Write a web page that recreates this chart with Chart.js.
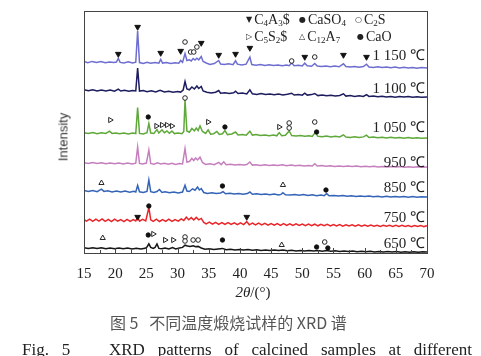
<!DOCTYPE html>
<html><head><meta charset="utf-8">
<script src="https://cdn.jsdelivr.net/npm/chart.js@4"></script>
<style>
html,body{margin:0;padding:0;background:#fff;}
#wrap{position:relative;width:481px;height:356px;overflow:hidden;font-family:'Liberation Serif',serif;color:#222;}
canvas{position:absolute;left:0;top:0;}
.t{position:absolute;white-space:nowrap;line-height:1;}
.temp{right:56px;font-size:15px;transform:translateY(-50%);}
.leg{font-size:14px;transform:translateY(-50%);}
.leg sub{font-size:9px;vertical-align:-2px;}
.sym{font-family:'DejaVu Sans',sans-serif;font-size:8px;vertical-align:2px;margin-right:2px;}
#ytitle{left:63px;top:137px;transform:translate(-50%,-50%) rotate(-90deg);font-family:'Liberation Sans',sans-serif;font-size:13px;color:#333;}
#xtitle{left:253px;top:292px;transform:translate(-50%,-50%);font-size:15px;}
#cap1{left:110px;top:322px;transform:translateY(-50%);font-family:'Noto Sans CJK SC',sans-serif;font-size:16px;color:#555;}
#cap2{left:22px;width:450px;top:349px;transform:translateY(-50%);font-size:17px;text-align:justify;text-align-last:justify;}
</style></head>
<body><div id="wrap">
<canvas id="c" width="481" height="356"></canvas>
<div class="t" id="ytitle">Intensity</div>
<div class="t" id="xtitle"><i>2θ</i>/(°)</div>
<div class="t leg" style="left:246px;top:20px"><span class="sym">▼</span>C<sub>4</sub>A<sub>3</sub>$</div>
<div class="t leg" style="left:299px;top:20px"><span class="sym">●</span>CaSO<sub>4</sub></div>
<div class="t leg" style="left:355px;top:20px"><span class="sym">○</span>C<sub>2</sub>S</div>
<div class="t leg" style="left:246px;top:37px"><span class="sym">▷</span>C<sub>5</sub>S<sub>2</sub>$</div>
<div class="t leg" style="left:299px;top:37px"><span class="sym">△</span>C<sub>12</sub>A<sub>7</sub></div>
<div class="t leg" style="left:357px;top:37px"><span class="sym">●</span>CaO</div>
<div id="temps"></div>
<div class="t" id="cap1">图 5&nbsp;&nbsp;&nbsp;不同温度煅烧试样的 XRD 谱</div>
<div class="t" id="cap2">Fig.&nbsp;5&nbsp;&nbsp; XRD patterns of calcined samples at different</div>
</div>
<script>
// ---- data ----
const temps = ['650 ℃','750 ℃','850 ℃','950 ℃','1 050 ℃','1 100 ℃','1 150 ℃'];
const colors = ['#161616','#e8262a','#3464b8','#c57fbd','#5fa83a','#1c1c5e','#6e6ed0'];
const offsets = [1, 27, 56, 86, 115, 156, 185];
const labelY = [243, 217, 187, 162, 127, 88, 55];

const s650 = [[15,4.2],[15.7,3.5],[16.4,4.3],[17.1,3.4],[17.8,4.2],[18.5,3.3],[19.2,4.1],[19.9,3.2],[20.6,4.0],[21.3,3.2],[22.0,3.9],[22.7,3.1],[23.4,3.8],[24.1,3.0],[24.8,3.7],[25.1,5.0],[25.4,8.2],[25.7,4.6],[26.1,3.5],[26.4,4.6],[26.7,8.0],[27.0,3.6],[27.5,3.2],[28.0,4.0],[28.6,3.0],[29.2,4.4],[29.7,3.1],[30.3,3.9],[30.8,4.6],[31.2,6.8],[31.6,6.0],[32.0,5.4],[32.5,6.2],[32.9,5.2],[33.3,5.6],[33.8,4.0],[34.4,2.8],[35.1,3.2],[35.8,2.4],[36.5,3.0],[37.2,3.6],[37.8,2.3],[38.5,2.8],[39.2,2.1],[39.9,2.6],[40.6,1.9],[41.3,2.4],[42.0,1.8],[42.7,2.3],[43.4,1.6],[44.1,2.1],[44.8,1.5],[45.5,2.0],[46.2,1.4],[46.9,1.9],[47.6,1.3],[48.3,1.8],[49.0,1.1],[49.7,1.6],[50.4,1.0],[51.1,1.5],[51.8,0.9],[52.5,1.4],[53.2,0.8],[53.9,1.4],[54.6,0.7],[55.3,1.2],[56.0,0.5],[56.7,1.0],[57.4,0.4],[58.1,0.9],[58.8,0.3],[59.5,0.8],[60.2,0.2],[60.9,0.7],[61.6,0.1],[62.3,0.6],[63.0,0.0],[63.7,0.5],[64.4,-0.1],[65.1,0.4],[65.8,-0.2],[66.5,0.3],[67.2,-0.2],[67.9,0.3],[68.6,-0.3],[69.3,0.2],[70,0.0]];

const s750 = [[15,6.5],[15.4,4.8],[15.9,6.8],[16.4,4.6],[16.9,6.9],[17.4,4.9],[17.9,7.0],[18.4,4.7],[18.9,6.6],[19.4,4.5],[19.9,6.8],[20.4,4.8],[20.9,6.4],[21.4,4.4],[21.9,6.7],[22.4,4.6],[22.9,6.3],[23.3,5.0],[23.6,9.0],[23.9,4.8],[24.4,6.6],[24.9,5.0],[25.4,18.5],[25.7,6.2],[26.1,4.6],[26.6,6.8],[27.1,4.5],[27.6,6.4],[28.1,4.7],[28.6,6.9],[29.1,4.6],[29.6,6.5],[30.1,4.9],[30.6,7.2],[31.0,5.6],[31.4,8.8],[31.8,6.2],[32.2,8.4],[32.6,6.0],[33.0,8.6],[33.4,6.1],[33.8,7.6],[34.2,3.6],[34.6,2.2],[35.1,3.8],[35.6,1.9],[36.1,3.6],[36.6,1.7],[37.1,3.5],[37.6,1.6],[38.1,3.3],[38.6,1.5],[39.1,3.2],[39.6,1.3],[40.1,3.1],[40.6,1.4],[41.1,4.4],[41.5,1.2],[42.0,2.9],[42.5,1.0],[43.0,2.8],[43.5,1.1],[44.0,2.6],[44.5,0.9],[45.0,2.5],[45.5,0.8],[46.0,2.4],[46.5,0.7],[47.0,2.3],[47.5,0.6],[48.0,2.2],[48.5,0.5],[49.0,2.1],[49.5,0.6],[50.0,2.0],[50.5,0.4],[51.0,1.9],[51.5,0.3],[52.0,1.8],[52.5,0.2],[53.0,1.7],[53.5,0.3],[54.0,1.6],[54.5,0.1],[55.0,1.5],[55.5,0.0],[56.0,1.4],[56.5,-0.1],[57.0,1.3],[57.5,0.0],[58.0,1.2],[58.5,-0.2],[59.0,1.1],[59.5,-0.1],[60.0,1.0],[60.5,-0.3],[61.0,0.9],[61.5,-0.2],[62.0,0.8],[62.5,-0.4],[63.0,0.8],[63.5,-0.3],[64.0,0.7],[64.5,-0.4],[65.0,0.6],[65.5,-0.5],[66.0,0.6],[66.5,-0.4],[67.0,0.5],[67.5,-0.6],[68.0,0.5],[68.5,-0.5],[69.0,0.4],[69.5,-0.6],[70,0.2]];

const s850 = [[15,6.4],[15.7,5.4],[16.4,6.5],[17.1,5.3],[17.8,7.8],[18.2,5.6],[18.8,6.2],[19.5,5.1],[20.2,6.0],[20.9,5.0],[21.6,5.9],[22.3,4.8],[23.0,5.7],[23.3,5.0],[23.6,11.5],[23.9,5.2],[24.5,4.6],[25.1,5.6],[25.4,17],[25.7,5.4],[26.2,4.5],[26.7,5.5],[27.1,7.5],[27.5,4.6],[28.0,5.2],[28.7,4.2],[29.4,5.0],[30.1,4.0],[30.8,4.9],[31.2,11.8],[31.5,6.0],[31.9,5.5],[32.4,8.2],[32.8,6.8],[33.2,10.0],[33.5,7.0],[33.8,8.5],[34.2,4.5],[34.8,3.6],[35.5,4.3],[36.2,3.4],[36.9,4.0],[37.3,5.4],[37.7,3.2],[38.4,3.8],[39.1,2.9],[39.8,3.6],[40.5,2.8],[41.2,3.4],[41.6,5.0],[42.0,2.7],[42.7,3.2],[43.4,2.4],[44.1,3.0],[44.8,2.2],[45.5,2.9],[46.2,2.1],[46.6,2.6],[46.9,4.3],[47.3,2.2],[48.1,2.0],[48.8,2.6],[49.5,1.7],[50.2,2.4],[50.9,1.5],[51.6,2.2],[52.3,1.3],[53.0,1.9],[53.5,1.2],[53.9,3.4],[54.3,1.2],[55.1,1.6],[55.8,0.9],[56.5,1.5],[57.2,0.7],[57.9,1.3],[58.6,0.5],[59.3,1.1],[60.0,0.4],[60.7,1.0],[61.4,0.2],[62.1,0.8],[62.8,0.1],[63.5,0.7],[64.2,0.0],[64.9,0.6],[65.6,-0.1],[66.3,0.5],[67.0,-0.2],[67.7,0.4],[68.4,-0.2],[69.1,0.3],[70,-0.1]];

const s950 = [[15,4.3],[15.7,3.4],[16.4,4.4],[17.1,3.5],[17.8,4.2],[18.5,3.3],[19.2,4.1],[19.9,3.2],[20.6,4.0],[21.3,3.1],[22.0,3.9],[22.7,3.0],[23.3,3.8],[23.6,20],[23.9,3.6],[24.4,3.0],[25.0,3.9],[25.4,17],[25.7,3.5],[26.2,2.8],[26.8,4.2],[27.3,3.0],[27.9,3.7],[28.5,2.7],[29.1,3.8],[29.7,2.6],[30.3,3.4],[30.8,3.0],[31.2,18.5],[31.5,5.0],[31.9,5.5],[32.3,8.5],[32.6,6.5],[32.9,9.0],[33.2,7.0],[33.6,9.8],[34.0,4.5],[34.5,2.6],[35.2,3.2],[35.9,2.3],[36.6,4.6],[37.0,2.4],[37.4,5.2],[37.8,2.2],[38.5,2.8],[39.2,2.0],[39.9,2.6],[40.6,1.9],[41.1,2.4],[41.6,5.0],[42.0,1.9],[42.6,2.3],[43.3,1.6],[44.0,2.2],[44.7,1.5],[45.4,2.1],[46.1,1.4],[46.8,2.2],[47.5,1.3],[48.2,1.9],[48.9,1.2],[49.6,1.8],[50.3,1.0],[51.0,1.6],[51.6,1.0],[52.0,3.2],[52.4,1.0],[53.1,1.4],[53.8,0.8],[54.5,1.3],[55.2,0.6],[55.9,1.1],[56.6,0.5],[57.3,1.0],[58.0,0.4],[58.7,0.9],[59.4,0.3],[60.1,0.8],[60.8,0.2],[61.5,0.7],[62.2,0.1],[62.9,0.6],[63.6,0.0],[64.3,0.5],[65.0,-0.1],[65.7,0.4],[66.4,-0.2],[67.1,0.3],[67.8,-0.2],[68.5,0.3],[69.2,-0.3],[70,0.0]];

const s1050 = [[15,5.3],[15.7,4.4],[16.4,5.4],[17.1,4.3],[17.8,5.2],[18.5,4.5],[19.1,6.8],[19.5,4.6],[20.1,5.1],[20.7,4.2],[21.4,5.0],[22.1,4.0],[22.8,4.9],[23.3,4.4],[23.6,30.5],[23.9,4.6],[24.5,4.0],[25.1,5.4],[25.4,14.5],[25.7,5.0],[26.2,4.5],[26.7,8.5],[27.0,5.0],[27.5,8.2],[27.9,5.2],[28.3,7.0],[28.7,4.8],[29.1,7.0],[29.5,4.4],[30.1,4.9],[30.7,4.2],[31.0,6.5],[31.2,38],[31.5,7.0],[31.9,5.8],[32.3,9.5],[32.7,7.2],[33.0,10.0],[33.3,7.5],[33.6,12.0],[34.0,6.5],[34.5,4.5],[34.9,8.2],[35.3,3.8],[35.8,4.3],[36.3,6.5],[36.7,3.6],[37.2,4.2],[37.6,7.5],[38.0,3.4],[38.7,4.0],[39.3,6.0],[39.7,3.0],[40.4,3.6],[41.0,2.8],[41.6,6.8],[42.0,2.9],[42.6,3.4],[43.3,2.5],[44.0,3.1],[44.7,2.3],[45.4,2.9],[45.9,2.2],[46.3,5.4],[46.7,2.3],[47.3,2.8],[47.9,7.0],[48.3,2.4],[49.0,2.0],[49.7,2.6],[50.4,1.7],[51.1,2.3],[51.6,1.6],[52.1,5.6],[52.5,1.7],[53.2,1.2],[53.9,1.9],[54.6,1.1],[55.3,1.7],[56.0,1.0],[56.6,3.2],[57.0,1.0],[57.7,0.6],[58.4,1.3],[59.1,0.5],[59.8,1.1],[60.3,2.8],[60.7,0.5],[61.4,1.0],[62.1,0.2],[62.8,0.8],[63.5,0.1],[64.2,0.7],[64.9,-0.1],[65.6,0.6],[66.3,-0.2],[67.0,0.4],[67.7,-0.3],[68.4,0.3],[69.1,-0.2],[70,0.1]];

const s1100 = [[15,7.4],[15.7,6.2],[16.4,7.3],[17.1,6.0],[17.8,7.0],[18.5,6.1],[19.2,6.9],[19.9,5.8],[20.5,7.8],[20.9,6.0],[21.5,6.8],[22.2,5.7],[22.8,6.5],[23.3,6.0],[23.6,29],[23.9,5.9],[24.5,6.4],[25.1,5.3],[25.8,6.2],[26.5,5.0],[27.2,6.6],[27.9,5.1],[28.6,5.8],[29.3,4.8],[30.0,5.5],[30.5,4.9],[30.9,7.0],[31.2,15.5],[31.5,8.0],[31.9,7.2],[32.3,10.0],[32.7,8.0],[33.1,11.0],[33.4,8.5],[33.8,10.5],[34.1,6.0],[34.7,4.8],[35.4,4.0],[36.1,4.8],[36.6,6.5],[36.9,3.8],[37.6,4.3],[38.3,3.4],[39.0,4.2],[39.3,5.8],[39.7,3.5],[40.4,3.9],[41.1,3.0],[41.6,7.2],[42.0,3.2],[42.7,2.6],[43.4,3.4],[44.1,2.5],[44.8,3.1],[45.5,2.3],[46.2,3.0],[46.9,2.1],[47.6,2.8],[48.3,3.8],[48.7,2.0],[49.4,2.6],[50.0,1.8],[50.4,3.8],[50.8,1.9],[51.5,2.4],[52.0,3.5],[52.5,1.4],[53.2,2.0],[53.9,1.2],[54.6,1.8],[55.3,1.0],[56.0,1.6],[56.6,3.2],[57.0,0.9],[57.7,1.4],[58.4,0.6],[59.1,1.2],[59.8,0.5],[60.3,2.4],[60.7,0.6],[61.4,1.0],[62.1,0.2],[62.8,0.8],[63.5,0.1],[64.2,0.6],[64.9,-0.2],[65.6,0.5],[66.3,-0.1],[67.0,0.4],[67.7,-0.3],[68.4,0.3],[69.1,-0.2],[70,0.1]];

const s1150 = [[15,6.5],[15.6,5.4],[16.3,6.6],[17,5.6],[17.7,6.4],[18.4,5.2],[19.1,6.0],[19.8,5.4],[20.2,5.9],[20.5,9.5],[20.8,5.6],[21.4,5.0],[22.1,6.2],[22.8,5.1],[23.3,5.8],[23.6,37],[23.9,5.4],[24.5,4.6],[25.1,5.8],[25.7,4.7],[26.4,5.6],[27.0,4.8],[27.3,8.5],[27.6,4.9],[28.2,5.5],[28.9,4.4],[29.6,5.3],[30.2,4.8],[30.5,7.5],[30.8,5.6],[31.2,14.5],[31.5,7.5],[31.9,8.2],[32.2,7.0],[32.5,9.5],[32.8,8.0],[33.1,9.8],[33.4,8.2],[33.8,11.5],[34.1,6.5],[34.6,5.0],[35.2,3.6],[35.9,4.5],[36.6,7.5],[36.9,4.0],[37.5,3.4],[38.2,4.2],[38.9,3.3],[39.3,7.2],[39.6,3.8],[40.3,3.0],[41.0,3.8],[41.6,11],[41.9,3.4],[42.6,2.8],[43.3,3.5],[44.0,2.6],[44.7,3.2],[45.4,2.4],[46.1,3.1],[46.8,2.2],[47.5,2.9],[47.9,2.3],[48.3,5.0],[48.7,2.3],[49.4,2.8],[50.0,2.0],[50.4,4.8],[50.8,2.3],[51.5,1.8],[52.0,4.5],[52.4,1.9],[53.1,1.4],[53.8,2.1],[54.5,1.3],[55.2,1.9],[55.9,1.2],[56.6,4.2],[57.0,1.4],[57.7,0.9],[58.4,1.6],[59.1,0.8],[59.8,1.4],[60.3,3.8],[60.7,0.9],[61.4,0.5],[62.1,1.2],[62.8,0.4],[63.5,1.0],[64.2,0.3],[64.9,0.9],[65.6,0.1],[66.3,0.7],[67.0,0.0],[67.7,0.6],[68.4,-0.2],[69.1,0.4],[70,0.0]];

const series = [s650, s750, s850, s950, s1050, s1100, s1150];

// phase markers [2θ, stacked height]
const mC4A3S = [[20.5,199],[23.6,226],[27.3,200],[30.5,202],[33.8,210],[36.6,198],[39.3,199],[41.6,205],[50.4,196],[56.6,198],[60.3,196],[23.6,36],[41.1,36]];
const mCaSO4 = [[25.3,136],[25.4,47],[25.3,18]];
const mC2S = [[31.2,211],[32.1,201],[32.6,201],[33.1,206],[48.3,192],[52.0,196],[31.2,155],[47.9,130],[47.9,125],[52.0,131],[31.2,16],[31.2,12],[32.5,13],[33.3,13],[53.6,11]];
const mC5S2S = [[19.2,133],[26.6,127],[27.5,128],[28.3,128],[29.1,127],[34.9,131],[46.3,126],[26.1,19],[28.0,13],[29.3,13]];
const mC12A7 = [[17.8,70],[46.9,68],[18.0,15],[46.7,8]];
const mCaO = [[37.6,126],[52.3,121],[37.2,67],[53.8,63],[37.2,13],[52.3,6],[54.1,5]];

const xTicksMajor = [15,20,25,30,35,40,45,50,55,60,65,70];

// ---- build ----
const toPts = a => a.map(p => ({x:p[0], y:p[1]}));
const markerSets = [
  {data:mC4A3S, style:'triangle', rot:180, r:3.3, fill:'#111'},
  {data:mCaSO4, style:'circle', rot:0, r:2.2, fill:'#111'},
  {data:mCaO, style:'circle', rot:0, r:2.2, fill:'#111'},
  {data:mC2S, style:'circle', rot:0, r:2.3, fill:'#fff'},
  {data:mC5S2S, style:'triangle', rot:90, r:3, fill:'#fff'},
  {data:mC12A7, style:'triangle', rot:0, r:3, fill:'#fff'}
].map(m => ({data:toPts(m.data), showLine:false, pointStyle:m.style, rotation:m.rot, pointRadius:m.r,
   pointBackgroundColor:m.fill, pointBorderColor:'#111', pointBorderWidth:0.9}));

const traceSets = series.map((s,i) => ({
  data: s.map(p => ({x:p[0], y:p[1] + offsets[i]})),
  showLine:true, borderColor:colors[i], borderWidth:1.5, pointRadius:0, tension:0
}));

const tempsDiv = document.getElementById('temps');
temps.forEach((t,i) => {
  const d = document.createElement('div');
  d.className = 't temp'; d.style.top = labelY[i] + 'px'; d.textContent = t;
  tempsDiv.appendChild(d);
});

const frameTicks = {
  id:'frameTicks',
  afterDraw(chart){
    const {ctx, chartArea:a, scales:{x}} = chart;
    ctx.save(); ctx.strokeStyle = '#444'; ctx.lineWidth = 1;
    ctx.strokeRect(Math.round(a.left)+0.5, Math.round(a.top)+0.5, Math.round(a.right-a.left), Math.round(a.bottom-a.top));
    xTicksMajor.forEach((v,k) => {
      const px = Math.round(x.getPixelForValue(v)) + 0.5;
      ctx.beginPath(); ctx.moveTo(px, a.bottom); ctx.lineTo(px, a.bottom-5); ctx.stroke();
      if (k < xTicksMajor.length-1) {
        const pm = Math.round(x.getPixelForValue(v+2.5)) + 0.5;
        ctx.beginPath(); ctx.moveTo(pm, a.bottom); ctx.lineTo(pm, a.bottom-3); ctx.stroke();
      }
    });
    ctx.restore();
  }
};

new Chart(document.getElementById('c'), {
  type:'scatter',
  data:{datasets:[...markerSets, ...traceSets]},
  options:{
    responsive:false, animation:false, events:[],
    layout:{padding:{top:11, right:54, left:0, bottom:0}},
    plugins:{legend:{display:false}, tooltip:{enabled:false}},
    scales:{
      x:{type:'linear', min:15, max:70, position:'bottom',
         afterFit: s => { s.height = 103; },
         grid:{display:false}, border:{display:false},
         afterBuildTicks: s => { s.ticks = xTicksMajor.map(v => ({value:v})); },
         ticks:{padding:4, color:'#222', maxRotation:0, autoSkip:false, font:{family:'Liberation Serif', size:15}}},
      y:{type:'linear', min:0, max:242,
         afterFit: s => { s.width = 84; },
         grid:{display:false}, border:{display:false}, ticks:{display:false}}
    }
  },
  plugins:[frameTicks]
});
</script>
</body></html>
